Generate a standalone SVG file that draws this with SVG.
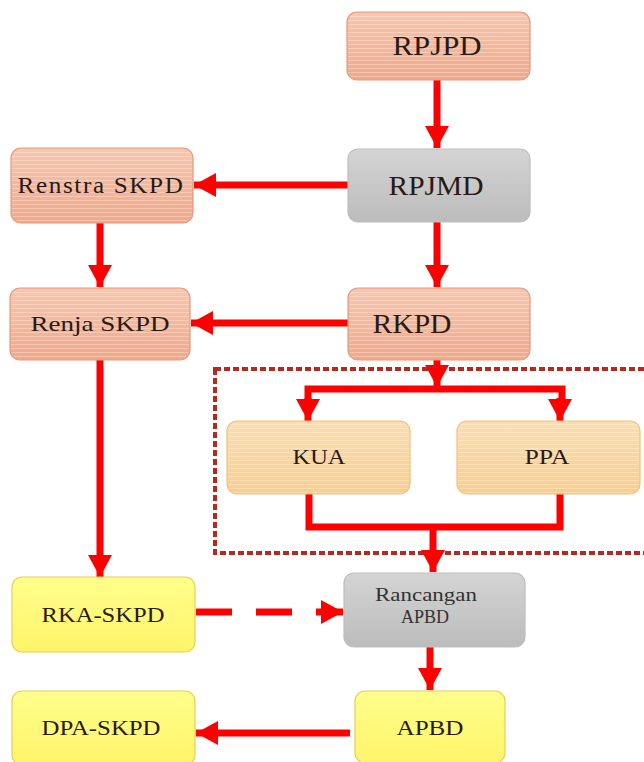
<svg xmlns="http://www.w3.org/2000/svg" width="644" height="762" viewBox="0 0 644 762">
<defs>
<linearGradient id="gSal" x1="0" y1="0" x2="0" y2="1">
<stop offset="0" stop-color="#F9C6AE"/><stop offset="1" stop-color="#F0A88A"/>
</linearGradient>
<linearGradient id="gGray" x1="0" y1="0" x2="0" y2="1">
<stop offset="0" stop-color="#D4D4D4"/><stop offset="1" stop-color="#BCBCBC"/>
</linearGradient>
<linearGradient id="gOr" x1="0" y1="0" x2="0" y2="1">
<stop offset="0" stop-color="#FDDDB0"/><stop offset="1" stop-color="#F9CD8E"/>
</linearGradient>
<linearGradient id="gYel" x1="0" y1="0" x2="0" y2="1">
<stop offset="0" stop-color="#FFFF8C"/><stop offset="1" stop-color="#FFF36A"/>
</linearGradient>
<pattern id="stripes" width="8" height="4" patternUnits="userSpaceOnUse">
<rect x="0" y="0" width="8" height="1" fill="#FFFFFF" fill-opacity="0.3"/>
</pattern>
<marker id="ah" markerUnits="userSpaceOnUse" markerWidth="26" markerHeight="26" viewBox="0 0 26 26" refX="24" refY="13" orient="auto">
<path d="M2,1 L24,13 L2,25 Z" fill="#FF0000"/>
</marker>
<style>
.sal{fill:url(#gSal);stroke:#E39A7E;stroke-width:1.2}
.gray{fill:url(#gGray);stroke:#BDBDBD;stroke-width:1.2}
.or{fill:url(#gOr);stroke:#F2C27C;stroke-width:1.2}
.yel{fill:url(#gYel);stroke:#E6CF55;stroke-width:1.2}
.st{fill:url(#stripes);stroke:none}
.t{font-family:"Liberation Serif","Times New Roman",serif;fill:#2A1A12;text-anchor:middle}
.g{fill:#333333}
.ln{fill:none;stroke:#FF0000;stroke-width:7}
.ar{fill:none;stroke:#FF0000;stroke-width:7;marker-end:url(#ah)}
</style>
</defs>
<rect width="644" height="762" fill="#FFFFFF"/>

<g id="group-box">
<rect x="215" y="369" width="440" height="184" fill="none" stroke="#B52A1E" stroke-width="4" stroke-dasharray="6,3"/>
</g>

<g id="connectors">
<path class="ar" d="M437,80 V148"/>
<path class="ar" d="M349,185 H194"/>
<path class="ar" d="M100,223 V287"/>
<path class="ar" d="M437,222 V287"/>
<path class="ar" d="M349,323 H191"/>
<path class="ar" d="M437,360 V387"/>
<path class="ln" d="M308,405 V389 H562 V405"/>
<path class="ar" d="M308,398 V421"/>
<path class="ar" d="M560,398 V421"/>
<path class="ln" d="M309,494 V527 H560 V494"/>
<path class="ar" d="M433,527 V572"/>
<path class="ar" d="M100,360 V577"/>
<path class="ar" d="M196,612 H343" stroke-dasharray="36,24"/>
<path class="ar" d="M430,647 V690"/>
<path class="ar" d="M350,733 H196"/>
</g>

<g id="RPJPD">
<rect class="sal" x="347" y="12" width="183" height="68" rx="10"/>
<rect class="st" x="348" y="13" width="181" height="66" rx="9"/>
<text class="t" x="437" y="55" font-size="27" textLength="89" lengthAdjust="spacingAndGlyphs">RPJPD</text>
</g>
<g id="RPJMD">
<rect class="gray" x="348" y="149" width="182" height="73" rx="10"/>
<text class="t" x="436" y="195" font-size="27" textLength="95" lengthAdjust="spacingAndGlyphs">RPJMD</text>
</g>
<g id="RenstraSKPD">
<rect class="sal" x="11" y="148" width="182" height="75" rx="10"/>
<rect class="st" x="12" y="149" width="180" height="73" rx="9"/>
<text class="t" x="101" y="193" font-size="23" letter-spacing="1.5" textLength="167" lengthAdjust="spacingAndGlyphs">Renstra SKPD</text>
</g>
<g id="RenjaSKPD">
<rect class="sal" x="10" y="288" width="180" height="72" rx="10"/>
<rect class="st" x="11" y="289" width="178" height="70" rx="9"/>
<text class="t" x="100" y="331" font-size="21" textLength="139" lengthAdjust="spacingAndGlyphs">Renja SKPD</text>
</g>
<g id="RKPD">
<rect class="sal" x="348" y="288" width="182" height="72" rx="10"/>
<rect class="st" x="349" y="289" width="180" height="70" rx="9"/>
<text class="t" x="412" y="333" font-size="27" textLength="79" lengthAdjust="spacingAndGlyphs">RKPD</text>
</g>
<g id="KUA">
<rect class="or" x="227" y="421" width="183" height="73" rx="10"/>
<rect class="st" x="228" y="422" width="181" height="71" rx="9"/>
<text class="t" x="319" y="464" font-size="21" textLength="53" lengthAdjust="spacingAndGlyphs">KUA</text>
</g>
<g id="PPA">
<rect class="or" x="457" y="421" width="183" height="73" rx="10"/>
<rect class="st" x="458" y="422" width="181" height="71" rx="9"/>
<text class="t" x="547" y="464" font-size="21" textLength="45" lengthAdjust="spacingAndGlyphs">PPA</text>
</g>
<g id="RancanganAPBD">
<rect class="gray" x="344" y="573" width="181" height="74" rx="10"/>
<text class="t g" x="426" y="601" font-size="18" textLength="102" lengthAdjust="spacingAndGlyphs">Rancangan</text>
<text class="t g" x="425" y="623" font-size="19" textLength="48" lengthAdjust="spacingAndGlyphs">APBD</text>
</g>
<g id="RKASKPD">
<rect class="yel" x="12" y="577" width="183" height="75" rx="10"/>
<text class="t" x="103" y="622" font-size="20" textLength="123" lengthAdjust="spacingAndGlyphs">RKA-SKPD</text>
</g>
<g id="APBD">
<rect class="yel" x="355" y="691" width="150" height="72" rx="10"/>
<text class="t" x="430" y="735" font-size="20" textLength="67" lengthAdjust="spacingAndGlyphs">APBD</text>
</g>
<g id="DPASKPD">
<rect class="yel" x="12" y="691" width="183" height="74" rx="10"/>
<text class="t" x="101" y="735" font-size="20" textLength="119" lengthAdjust="spacingAndGlyphs">DPA-SKPD</text>
</g>
</svg>
